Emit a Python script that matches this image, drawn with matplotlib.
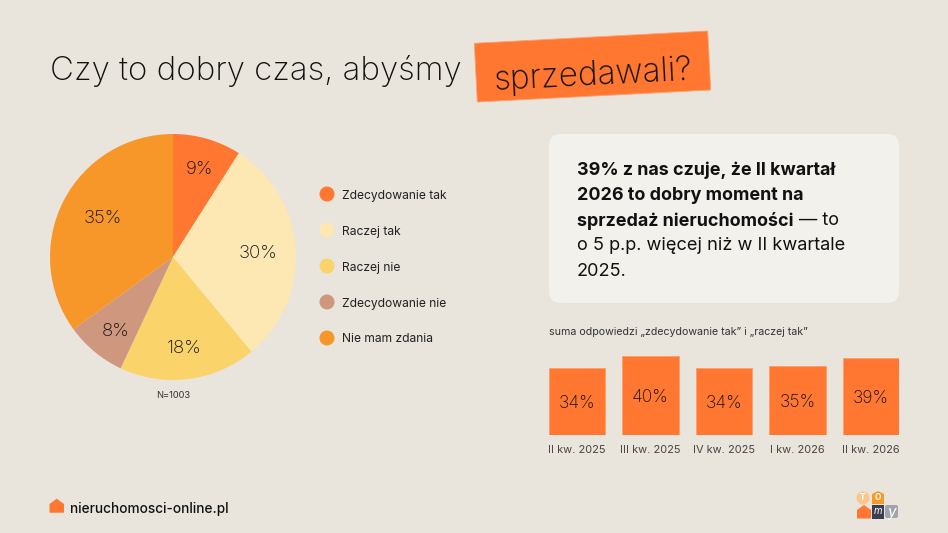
import numpy as np
import matplotlib
matplotlib.use('Agg')
import matplotlib.pyplot as plt
from matplotlib.patches import Polygon, FancyBboxPatch, Circle

plt.rcParams['font.family'] = ['Inter', 'DejaVu Sans']

# dane
pie_labels = ['Zdecydowanie tak', 'Raczej tak', 'Raczej nie', 'Zdecydowanie nie', 'Nie mam zdania']
pie_values = [9, 30, 18, 8, 35]
quarters = ['II kw. 2025', 'III kw. 2025', 'IV kw. 2025', 'I kw. 2026', 'II kw. 2026']
quarter_values = [34, 40, 34, 35, 39]

pie_colors = ['#FF7731', '#FDE8B4', '#FAD46B', '#CF977E', '#F7972A']
label_dist = [0.76, 0.69, 0.73, 0.75, 0.67]
label_nudge = [(0, 0), (0, 0), (0, 0), (1, -1), (3, 3)]  # w pikselach
bg = '#E9E5DC'
orange = '#FF7731'
ink = '#111111'

W, H = 948, 533
fig = plt.figure(figsize=(W / 100, H / 100), dpi=100, facecolor=bg)

def axes_px(x0, y0, x1, y1):
    return fig.add_axes([x0 / W, 1 - y1 / H, (x1 - x0) / W, (y1 - y0) / H])

# warstwa w pikselach
bgax = fig.add_axes([0, 0, 1, 1])
bgax.set_xlim(0, W)
bgax.set_ylim(H, 0)
bgax.axis('off')

# tytul
bgax.text(50, 80, 'Czy to dobry czas, abyśmy', fontsize=23.8, color=ink, va='baseline', ha='left', fontweight='light')
bgax.add_patch(Polygon([(474.3, 43.3), (707.7, 31), (710.7, 90), (477.3, 102)], fc=orange, ec='#FFA070', lw=0.6))
bgax.text(593, 72, 'sprzedawali?', fontsize=24, color=ink, va='center_baseline', ha='center', rotation=3,
          rotation_mode='anchor', fontweight='light')

# wykres kolowy
ax_pie = axes_px(50, 134, 296, 380)
wedges, _ = ax_pie.pie(pie_values, colors=pie_colors, startangle=90, counterclock=False, radius=1)
ax_pie.set_xlim(-1, 1)
ax_pie.set_ylim(-1, 1)
for w, v, d, n in zip(wedges, pie_values, label_dist, label_nudge):
    a = np.deg2rad((w.theta1 + w.theta2) / 2)
    ax_pie.text(d * np.cos(a) + n[0] / 123, d * np.sin(a) + n[1] / 123, f'{v}%', ha='center', va='center_baseline',
                fontsize=13.4, color=ink, fontweight='light')
bgax.text(173, 396, 'N=1003', fontsize=6.7, color='#333333', ha='center', va='center')

# legenda
for i, (lab, col) in enumerate(zip(pie_labels, pie_colors)):
    y = 194 + i * 36
    bgax.add_patch(Circle((327, y), 7.5, fc=col, ec='none'))
    bgax.text(342, y, lab, fontsize=8.7, color='#222222', va='center_baseline', ha='left')

# karta z tekstem
bgax.add_patch(FancyBboxPatch((549, 134), 350, 169, boxstyle='round,pad=0,rounding_size=12', fc='#F3F1EC', ec='none'))
bold_fs = 12.9
light_fs = 13.1
bgax.text(577, 168, '39% z nas czuje, że II kwartał', fontsize=bold_fs, fontweight='bold', color=ink, va='center_baseline')
bgax.text(577, 193.5, '2026 to dobry moment na', fontsize=bold_fs, fontweight='bold', color=ink, va='center_baseline')
bgax.text(577, 218.5, 'sprzedaż nieruchomości', fontsize=bold_fs, fontweight='bold', color=ink, va='center_baseline')
bgax.text(799, 218.5, '— to', fontsize=light_fs, color=ink, va='center_baseline')
bgax.text(577, 244, 'o 5 p.p. więcej niż w II kwartale', fontsize=light_fs, color=ink, va='center_baseline')
bgax.text(577, 269, '2025.', fontsize=light_fs, color=ink, va='center_baseline')

bgax.text(549, 332, 'suma odpowiedzi „zdecydowanie tak” i „raczej tak”', fontsize=7.65, color='#333333', va='center')

# slupki
ax_bar = axes_px(549, 340, 899, 435)
ax_bar.set_facecolor('none')
x = np.arange(len(quarters))
bars = ax_bar.bar(x, quarter_values, width=0.762, color=orange, edgecolor='#FF9D68', linewidth=0.6)
ax_bar.set_xlim(-0.381, 4.381)
ax_bar.set_ylim(0, 48.2)
for b, v in zip(bars, quarter_values):
    ax_bar.text(b.get_x() + b.get_width() / 2, v / 2, f'{v}%', ha='center', va='center_baseline', fontsize=12.6,
                color=ink, fontweight='light')
ax_bar.set_xticks(x, quarters, fontsize=7.9, color='#444444')
ax_bar.tick_params(axis='x', length=0, pad=7.5)
ax_bar.set_yticks([])
for s in ax_bar.spines.values():
    s.set_visible(False)

# stopka
bgax.add_patch(Polygon([(49.5, 512.7), (49.5, 504), (56.7, 498.7), (64, 504), (64, 512.7)], fc=orange, ec='none'))
bgax.text(70, 508, 'nieruchomosci-online.pl', fontsize=9.8, color=ink, va='center_baseline', fontweight='medium')

# logo
bgax.add_patch(Circle((863, 498), 6.5, fc='#FBC68C', ec='none'))
bgax.text(863, 498, 'T', fontsize=6, color='white', ha='center', va='center', fontweight='bold')
bgax.add_patch(Polygon([(872, 504), (872, 494), (878, 491), (884, 494), (884, 504)], fc='#F89A2A', ec='none'))
bgax.text(878, 498, 'O', fontsize=6, color='white', ha='center', va='center', fontweight='bold')
bgax.add_patch(Polygon([(857, 518.5), (857, 510), (864, 505), (871, 510), (871, 518.5)], fc=orange, ec='none'))
bgax.add_patch(Polygon([(872, 504.5), (884, 504.5), (884, 518.5), (872, 518.5)], fc='#3D3D52', ec='none'))
bgax.text(878, 511.5, 'm', fontsize=7, color='white', ha='center', va='center', style='italic')
bgax.add_patch(FancyBboxPatch((885, 505), 13, 13, boxstyle='round,pad=0,rounding_size=2', fc='#A3A3AE', ec='none'))
bgax.text(891.5, 513, 'y', fontsize=11, color='white', ha='center', va='center', style='italic')

fig.savefig('out.png', dpi=100, facecolor=bg)
